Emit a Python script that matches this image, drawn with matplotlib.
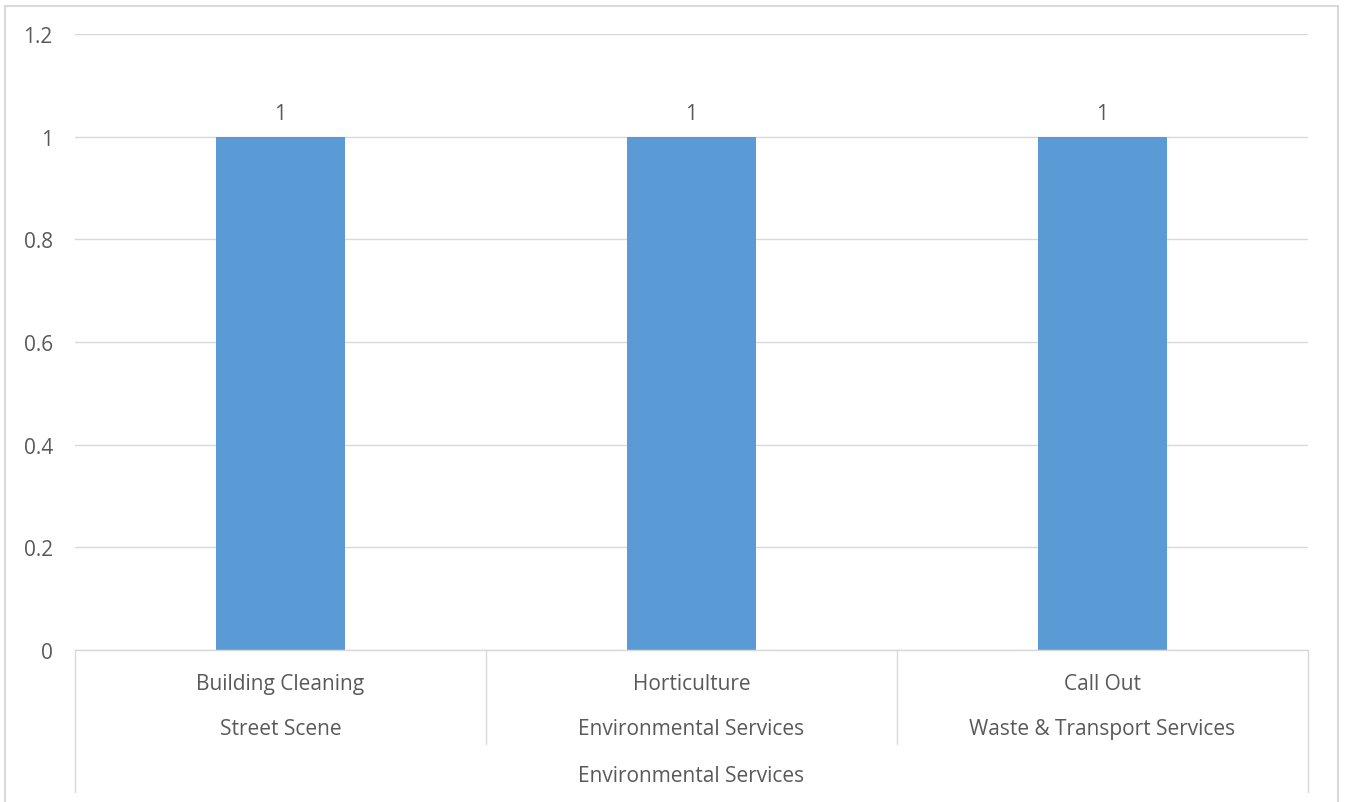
import matplotlib
matplotlib.use("Agg")
import matplotlib.pyplot as plt
from matplotlib.patches import Rectangle
from matplotlib.lines import Line2D

categories = ["Building Cleaning", "Horticulture", "Call Out"]
level2 = ["Street Scene", "Environmental Services", "Waste & Transport Services"]
level3 = "Environmental Services"
values = [1, 1, 1]
yticks = [0, 0.2, 0.4, 0.6, 0.8, 1, 1.2]
ytick_labels = ["0", "0.2", "0.4", "0.6", "0.8", "1", "1.2"]

W, H = 1346, 803
fig = plt.figure(figsize=(W / 100, H / 100), dpi=100)
plt.rcParams['font.family'] = ['Open Sans', 'DejaVu Sans']
txt = '#595959'
grid = '#D9D9D9'
fs = 15

def fx(px):
    return px / W

def fy(py):
    return 1 - py / H

# outer chart border
fig.add_artist(Rectangle((fx(5), fy(820)), fx(1338) - fx(5), fy(7) - fy(820),
                         transform=fig.transFigure, fill=False, edgecolor='#D9D9D9', lw=1.5))

left, right, top, bottom = 75, 1308, 35, 651
ax = fig.add_axes([fx(left), fy(bottom), fx(right) - fx(left), fy(top) - fy(bottom)])
x = list(range(len(categories)))
bars = ax.bar(x, values, width=0.314, color='#5B9BD5', zorder=3)
ax.set_xlim(-0.5, len(categories) - 0.5)
ax.set_ylim(0, 1.2)
ax.set_yticks(yticks)
ax.set_yticklabels(ytick_labels, color=txt, fontsize=fs)
ax.tick_params(axis='y', length=0, pad=16)
for lbl in ax.get_yticklabels():
    lbl.set_va('center_baseline')
ax.set_xticks([])
ax.grid(axis='y', color=grid, lw=1, zorder=0)
for s in ax.spines.values():
    s.set_visible(False)
for xi, v in zip(x, values):
    ax.text(xi, v + 0.05, f"{v:g}", ha='center', va='center_baseline', color=txt, fontsize=fs)

# multi-level category axis
cat_w = (right - left) / len(categories)
fig.add_artist(Line2D([fx(left), fx(right)], [fy(bottom), fy(bottom)], transform=fig.transFigure, color=grid, lw=1))
fig.add_artist(Line2D([fx(left), fx(left)], [fy(bottom), fy(793)], transform=fig.transFigure, color=grid, lw=1))
fig.add_artist(Line2D([fx(right), fx(right)], [fy(bottom), fy(793)], transform=fig.transFigure, color=grid, lw=1))
for i in range(1, len(categories)):
    xx = left + i * cat_w
    fig.add_artist(Line2D([fx(xx), fx(xx)], [fy(bottom), fy(745)], transform=fig.transFigure, color=grid, lw=1))
for i, (c, l2) in enumerate(zip(categories, level2)):
    cx = left + (i + 0.5) * cat_w
    fig.text(fx(cx), fy(685), c, ha='center', va='center', color=txt, fontsize=fs)
    fig.text(fx(cx), fy(730), l2, ha='center', va='center', color=txt, fontsize=fs)
fig.text(fx((left + right) / 2), fy(777), level3, ha='center', va='center', color=txt, fontsize=fs)

fig.savefig('out.png', dpi=100, facecolor='white')
